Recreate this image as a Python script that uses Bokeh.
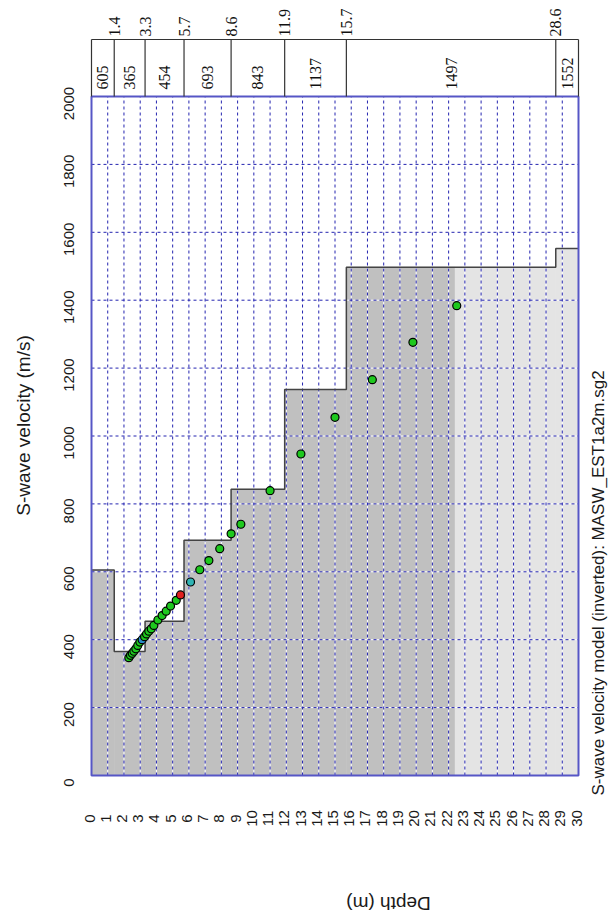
import math
from bokeh.plotting import figure
from bokeh.models import Range1d
from bokeh.embed import file_html
from bokeh.resources import INLINE
from bokeh.core.properties import value

# ---------------- data ----------------
layer_top = [0, 1.4, 3.3, 5.7, 8.6, 11.9, 15.7, 28.6]
layer_vs = [605, 365, 454, 693, 843, 1137, 1497, 1552]
max_depth = 30
shade_depth = 22.4

pt_depth = [2.30, 2.40, 2.51, 2.61, 2.73, 2.85, 2.98, 3.12, 3.27, 3.39, 3.53,
            3.68, 3.84, 4.09, 4.35, 4.60, 4.87, 5.22, 5.48, 6.10, 6.67, 7.23,
            7.9, 8.6, 9.2, 11.0, 12.9, 15.0, 17.3, 19.8, 22.5]
pt_vel = [347, 354, 360, 366, 373, 383, 393, 400, 409, 417, 425,
          432, 442, 458, 471, 484, 499, 516, 532, 570, 606, 633,
          668, 712, 740, 839, 947, 1055, 1166, 1276, 1384]
pt_kind = ["g"] * 7 + ["b"] + ["g"] * 10 + ["r", "c"] + ["g"] * 11

depth_ticks = list(range(0, 31))
vel_ticks = list(range(0, 2001, 200))
vel_max = 2000

title_v = "S-wave velocity (m/s)"
title_d = "Depth (m)"
footer = "S-wave velocity model (inverted): MASW_EST1a2m.sg2"

# ---------------- geometry ----------------
W, H = 608, 922
left_px, right_px, top_px, bottom_px = 91, 578, 96, 775
ppm = (right_px - left_px) / max_depth          # px per metre
ppv = (bottom_px - top_px) / vel_max            # px per m/s


def v_at_px(py):
    return (bottom_px - py) / ppv


def d_at_px(px):
    return (px - left_px) / ppm


p = figure(width=W, height=H,
           x_range=Range1d(d_at_px(0), d_at_px(W)),
           y_range=Range1d(v_at_px(H), v_at_px(0)),
           x_axis_location=None, y_axis_location=None,
           min_border=0, output_backend="svg",
           toolbar_location=None, outline_line_color=None,
           background_fill_color="white", border_fill_color="white")
p.xgrid.grid_line_color = None
p.ygrid.grid_line_color = None

# ---------------- shading ----------------
bounds = layer_top + [max_depth]
dl, dr, dt, ll, lr, lt = [], [], [], [], [], []
for i, v in enumerate(layer_vs):
    a, b = bounds[i], bounds[i + 1]
    if a < shade_depth:
        dl.append(a); dr.append(min(b, shade_depth)); dt.append(v)
    if b > shade_depth:
        ll.append(max(a, shade_depth)); lr.append(b); lt.append(v)
p.quad(left=dl, right=dr, bottom=0, top=dt, fill_color="#c0c0c0",
       line_color="#c0c0c0", line_width=0.6)
p.quad(left=ll, right=lr, bottom=0, top=lt, fill_color="#e4e4e4",
       line_color="#e4e4e4", line_width=0.6)

# ---------------- grid ----------------
gx = depth_ticks[1:-1]
gy = vel_ticks[1:-1]
for col, dash in (("white", "solid"), ("#2424b0", "3 3")):
    p.segment(x0=gx, y0=[0] * len(gx), x1=gx, y1=[vel_max] * len(gx),
              line_color=col, line_width=1, line_dash=dash)
    p.segment(x0=[0] * len(gy), y0=gy, x1=[max_depth] * len(gy), y1=gy,
              line_color=col, line_width=1, line_dash=dash)

# ---------------- step profile ----------------
p.step(x=bounds, y=layer_vs + [layer_vs[-1]], mode="after",
       line_color="#444444", line_width=1.5)

# ---------------- border ----------------
p.quad(left=0, right=max_depth, bottom=0, top=vel_max, fill_color=None,
       line_color="#5656c6", line_width=2)

# ---------------- top box ----------------
box_top = v_at_px(39)
p.segment(x0=bounds, y0=[vel_max] * len(bounds), x1=bounds,
          y1=[box_top] * len(bounds), line_color="#333333", line_width=1.2)
p.segment(x0=[0], y0=[box_top], x1=[max_depth], y1=[box_top],
          line_color="#333333", line_width=1.2)

serif = dict(angle=math.pi / 2, text_align="left", text_baseline="middle",
             text_font=value("Liberation Serif"), text_font_size="16px",
             text_color="#111111")
p.text(x=layer_top[1:], y=[v_at_px(36)] * (len(layer_top) - 1),
       text=[f"{d:g}" for d in layer_top[1:]], **serif)
mids = [(bounds[i] + bounds[i + 1]) / 2 for i in range(len(layer_vs))]
p.text(x=mids, y=[v_at_px(89)] * len(mids), text=[str(v) for v in layer_vs],
       **serif)

# ---------------- points ----------------
cmap = {"g": "#1ec81e", "b": "#2a8cc8", "r": "#e02020", "c": "#30b4b4"}
p.scatter(x=pt_depth, y=pt_vel, size=8, fill_color=[cmap[k] for k in pt_kind],
          line_color="black", line_width=1.2)

# ---------------- tick labels ----------------
sans = dict(angle=math.pi / 2, text_align="center", text_baseline="middle",
            text_font=value("Liberation Sans"), text_font_size="15px",
            text_color="#1a1a1a")
p.text(x=depth_ticks, y=[v_at_px(818)] * len(depth_ticks),
       text=[str(d) for d in depth_ticks], x_offset=-2, **sans)
p.text(x=[d_at_px(68)] * len(vel_ticks), y=vel_ticks,
       text=[str(v) for v in vel_ticks], y_offset=7, **sans)

# ---------------- titles ----------------
p.text(x=[d_at_px(23)], y=[v_at_px(425)], text=[title_v], angle=math.pi / 2,
       text_align="center", text_baseline="middle",
       text_font=value("Liberation Sans"), text_font_size="19px",
       text_color="#1a1a1a")
p.text(x=[d_at_px(388)], y=[v_at_px(903)], text=[title_d], angle=math.pi,
       text_align="center", text_baseline="middle",
       text_font=value("Liberation Sans"), text_font_size="19px",
       text_color="#1a1a1a")
p.text(x=[d_at_px(598)], y=[v_at_px(795)], text=[footer], angle=math.pi / 2,
       text_align="left", text_baseline="middle",
       text_font=value("Liberation Sans"), text_font_size="17px",
       text_color="#1a1a1a")

open("out.html", "w").write(file_html(p, INLINE))
